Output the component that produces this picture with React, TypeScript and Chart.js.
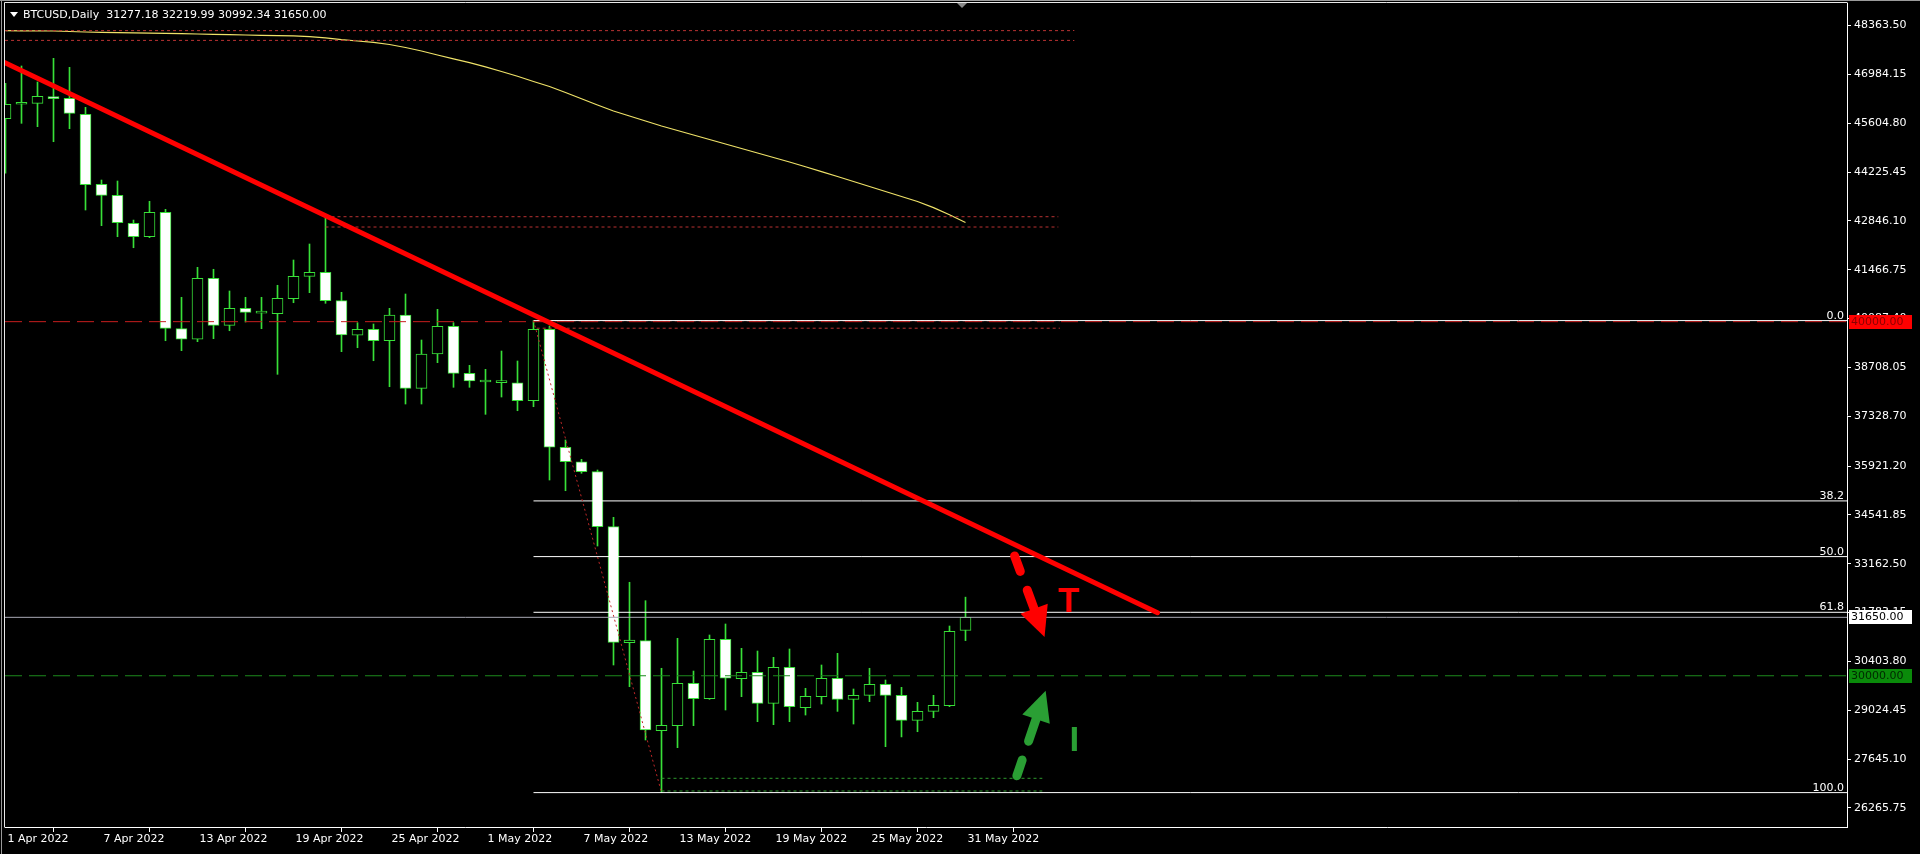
import React, { useEffect, useRef } from 'react';
import { Chart, registerables } from 'chart.js';

Chart.register(...registerables);

// ---- instrument ----
const symbolTitle = 'BTCUSD,Daily';

// ---- time axis ----
const dateTicks = ['1 Apr 2022', '7 Apr 2022', '13 Apr 2022', '19 Apr 2022', '25 Apr 2022', '1 May 2022', '7 May 2022', '13 May 2022', '19 May 2022', '25 May 2022', '31 May 2022'];
const dateTickBars = [0, 6, 12, 18, 24, 30, 36, 42, 48, 54, 60];

// ---- price axis ----
const priceTicks = [48363.5, 46984.15, 45604.8, 44225.45, 42846.1, 41466.75, 40087.4, 38708.05, 37328.7, 35921.2, 34541.85, 33162.5, 31783.15, 30403.8, 29024.45, 27645.1, 26265.75];

// ---- daily OHLC, 1 Apr 2022 .. 31 May 2022 ----
const opens = [45731, 46140, 46166, 46353, 46308, 45856, 43879, 43568, 42778, 42399, 43088, 39801, 39502, 41224, 39897, 40377, 40240, 40225, 40648, 41281, 41394, 40592, 39615, 39784, 39462, 40188, 38118, 39087, 39869, 38541, 38295, 38280, 38276, 37767, 39784, 36452, 36045, 35763, 34210, 30934, 30991, 28449, 28590, 29787, 29352, 31030, 29917, 30098, 29222, 30239, 29098, 29409, 29929, 29334, 29448, 29759, 29448, 28742, 28996, 29155, 31277.18];
const highs = [46731, 47220, 46768, 47437, 47183, 46053, 44000, 43972, 42869, 43399, 43173, 40688, 41535, 41479, 40866, 40688, 40688, 41027, 41741, 42193, 42936, 40829, 39971, 39934, 40377, 40781, 39482, 40349, 39971, 38767, 38654, 39171, 38889, 40030, 39877, 36658, 36113, 35811, 34475, 32640, 32120, 30211, 31058, 30133, 31151, 31462, 30775, 30699, 30521, 30756, 29646, 30304, 30634, 29626, 30211, 29880, 29674, 29250, 29448, 31405, 32219.99];
const lows = [44190, 45601, 45506, 45082, 45449, 43153, 42710, 42399, 42088, 42371, 39462, 39180, 39434, 39519, 39744, 39990, 39801, 38513, 40535, 40818, 40518, 39152, 39264, 38897, 38163, 37674, 37674, 38841, 38146, 38146, 37383, 37872, 37485, 37598, 35528, 35226, 35718, 33664, 30304, 29691, 28186, 26700, 27969, 28590, 29334, 29033, 29409, 28703, 28618, 28703, 28891, 29202, 28994, 28637, 29268, 27997, 28273, 28420, 28816, 29127, 30992.34];
const closes = [46138, 46165, 46364, 46296, 45884, 43868, 43568, 42794, 42399, 43088, 39812, 39502, 41224, 39897, 40377, 40264, 40252, 40660, 41281, 41394, 40592, 39623, 39784, 39462, 40188, 38118, 39087, 39869, 38541, 38324, 38310, 38292, 37767, 39784, 36452, 36045, 35763, 34210, 30945, 31011, 28468, 28601, 29787, 29352, 31030, 29929, 30098, 29222, 30239, 29126, 29420, 29929, 29334, 29448, 29759, 29448, 28742, 28996, 29166, 31256, 31650.0];

// ---- slow moving average ----
const maValues = [48217, 48214, 48211, 48208, 48194, 48180, 48171, 48163, 48155, 48149, 48143, 48135, 48123, 48112, 48104, 48095, 48087, 48078, 48070, 48050, 48016, 47965, 47926, 47889, 47827, 47742, 47643, 47530, 47423, 47316, 47197, 47064, 46929, 46782, 46641, 46471, 46294, 46118, 45949, 45808, 45667, 45525, 45398, 45271, 45144, 45017, 44890, 44763, 44636, 44509, 44374, 44238, 44100, 43958, 43817, 43676, 43535, 43393, 43220, 43020, 42800];

// ---- drawn objects ----
const trendBars = [-0.03, 72];
const trendPrices = [47313, 31781];

const fibBars = [33, 41];
const fibPrices = [40030, 26700];
const fibRatios = [0, 0.382, 0.5, 0.618, 1];
const fibNames = ['0.0', '38.2', '50.0', '61.8', '100.0'];

const resistancePrice = 40000;
const supportPrice = 30000;
const lastPrice = 31650.0;
const barOpen = 31277.18;
const barHigh = 32219.99;
const barLow = 30992.34;

const zoneFromBars = [-0.03, 20, 33.2, 41];
const zoneToBars = [66.8, 65.8, 65.9, 64.8];
const zoneUpper = [48219, 42964, 40024, 27104];
const zoneLower = [47943, 42673, 39815, 26746];

const arrowTailBars = [62.97, 63.12];
const arrowTailPrices = [33504, 27056];
const arrowTipBars = [64.94, 65.01];
const arrowTipPrices = [31095, 29578];

const noteTexts = ['T', 'I'];
const noteBars = [65.8, 66.5];
const notePrices = [31801, 27875];

// ---- view range ----
const xMin = -0.03125;
const xMax = 115.09375;
const yMin = 25729;
const yMax = 48999;

const CANDLE = '#38e038';
const RED = '#ff0000';
const GREEN = '#2a9f34';

const hLine = (price: number, from: number, to: number) => [
  { x: from, y: price },
  { x: to, y: price },
];

const overlay = {
  id: 'terminalOverlay',
  afterDraw(chart: any) {
    const { ctx, chartArea, scales } = chart;
    const xs = scales.x;
    const ys = scales.y;
    ctx.save();

    // frame
    ctx.strokeStyle = '#9a9a9a';
    ctx.lineWidth = 1;
    ctx.beginPath();
    ctx.moveTo(0, 0.5);
    ctx.lineTo(1920, 0.5);
    ctx.moveTo(1.5, 0);
    ctx.lineTo(1.5, 854);
    ctx.stroke();
    ctx.strokeStyle = '#e8e8e8';
    ctx.beginPath();
    ctx.moveTo(chartArea.left - 0.5, chartArea.top - 0.5);
    ctx.lineTo(chartArea.left - 0.5, chartArea.bottom + 0.5);
    ctx.moveTo(chartArea.left - 0.5, chartArea.top - 0.5);
    ctx.lineTo(chartArea.right + 0.5, chartArea.top - 0.5);
    ctx.stroke();

    // header
    ctx.fillStyle = '#ffffff';
    ctx.beginPath();
    ctx.moveTo(10, 12);
    ctx.lineTo(18, 12);
    ctx.lineTo(14, 17);
    ctx.closePath();
    ctx.fill();
    ctx.font = '11px "DejaVu Sans"';
    ctx.textBaseline = 'middle';
    ctx.textAlign = 'left';
    ctx.fillText(
      symbolTitle + '  ' + [barOpen, barHigh, barLow, lastPrice].map((v) => v.toFixed(2)).join(' '),
      23,
      15
    );

    // chart shift marker
    ctx.fillStyle = '#8a8a8a';
    ctx.beginPath();
    ctx.moveTo(957, 3);
    ctx.lineTo(967, 3);
    ctx.lineTo(962, 8);
    ctx.closePath();
    ctx.fill();

    // fibonacci level captions
    const fibHi = fibPrices[0];
    const fibLo = fibPrices[1];
    ctx.fillStyle = '#ffffff';
    ctx.textAlign = 'right';
    ctx.textBaseline = 'alphabetic';
    fibRatios.forEach((r, i) => {
      const y = ys.getPixelForValue(fibHi - (fibHi - fibLo) * r);
      ctx.fillText(fibNames[i], chartArea.right - 3, Math.round(y) - 2);
    });

    // arrows
    const drawArrow = (i: number, color: string) => {
      const x0 = xs.getPixelForValue(arrowTailBars[i]);
      const y0 = ys.getPixelForValue(arrowTailPrices[i]);
      const x1 = xs.getPixelForValue(arrowTipBars[i]);
      const y1 = ys.getPixelForValue(arrowTipPrices[i]);
      const len = Math.hypot(x1 - x0, y1 - y0);
      const ux = (x1 - x0) / len;
      const uy = (y1 - y0) / len;
      const nx = -uy;
      const ny = ux;
      const headLen = 30;
      const headHalf = 14.5;
      ctx.strokeStyle = color;
      ctx.fillStyle = color;
      ctx.lineWidth = 9;
      ctx.lineCap = 'round';
      const seg = (a: number, b: number) => {
        ctx.beginPath();
        ctx.moveTo(x0 + ux * a, y0 + uy * a);
        ctx.lineTo(x0 + ux * b, y0 + uy * b);
        ctx.stroke();
      };
      seg(4.5, 21);
      seg(41, len - headLen + 2);
      const bx = x1 - ux * headLen;
      const by = y1 - uy * headLen;
      ctx.beginPath();
      ctx.moveTo(x1, y1);
      ctx.lineTo(bx + nx * headHalf, by + ny * headHalf);
      ctx.lineTo(bx - nx * headHalf, by - ny * headHalf);
      ctx.closePath();
      ctx.fill();
    };
    drawArrow(0, RED);
    drawArrow(1, GREEN);

    // notes
    ctx.font = 'bold 35px "Liberation Sans"';
    ctx.textAlign = 'left';
    ctx.textBaseline = 'alphabetic';
    const noteColors = [RED, GREEN];
    noteTexts.forEach((t, i) => {
      ctx.fillStyle = noteColors[i];
      ctx.fillText(t, xs.getPixelForValue(noteBars[i]), ys.getPixelForValue(notePrices[i]));
    });

    // price tags on the axis
    const tag = (price: number, bg: string, fg: string) => {
      const y = Math.round(ys.getPixelForValue(price));
      ctx.fillStyle = bg;
      ctx.fillRect(chartArea.right + 2, y - 7, 63, 14);
      ctx.fillStyle = fg;
      ctx.font = '11px "DejaVu Sans"';
      ctx.textAlign = 'left';
      ctx.textBaseline = 'middle';
      ctx.fillText(price.toFixed(2), chartArea.right + 4, y + 0.5);
    };
    tag(resistancePrice, '#ff0000', '#8a0000');
    tag(lastPrice, '#ffffff', '#000000');
    tag(supportPrice, '#0a8a0a', '#002800');

    ctx.restore();
  },
};

export default function App() {
  const canvasRef = useRef<HTMLCanvasElement | null>(null);

  useEffect(() => {
    if (!canvasRef.current) return;
    Chart.defaults.font.family = '"DejaVu Sans", sans-serif';
    Chart.defaults.font.size = 11;

    const bars = opens.map((_, i) => i);
    const wickData = bars.map((i) => ({ x: i, y: [lows[i], highs[i]] }));
    const bodyData = bars.map((i) => ({ x: i, y: [opens[i], closes[i]] }));
    const bodyFill = bars.map((i) => (closes[i] >= opens[i] ? '#000000' : '#ffffff'));

    const fibHi = fibPrices[0];
    const fibLo = fibPrices[1];

    const lineBase = { type: 'line' as const, pointRadius: 0, fill: false, tension: 0 };

    const datasets: any[] = [
      {
        type: 'bar',
        data: wickData,
        backgroundColor: CANDLE,
        barThickness: 1,
        grouped: false,
        order: 20,
      },
      {
        type: 'bar',
        data: bodyData,
        backgroundColor: bodyFill,
        borderColor: CANDLE,
        borderWidth: 1,
        borderSkipped: false,
        barThickness: 11,
        minBarLength: 2,
        grouped: false,
        order: 19,
      },
      {
        ...lineBase,
        data: bars.map((i) => ({ x: i, y: maValues[i] })),
        borderColor: '#efe268',
        borderWidth: 1.2,
        order: 10,
      },
    ];

    // zones
    zoneFromBars.forEach((from, i) => {
      const color = i === 3 ? '#2e9a2e' : '#b83232';
      [zoneUpper[i], zoneLower[i]].forEach((p) => {
        datasets.push({
          ...lineBase,
          data: hLine(p, from, zoneToBars[i]),
          borderColor: color,
          borderWidth: 1,
          borderDash: [3, 3],
          order: 9,
        });
      });
    });

    // fibonacci
    fibRatios.forEach((r) => {
      datasets.push({
        ...lineBase,
        data: hLine(fibHi - (fibHi - fibLo) * r, fibBars[0], xMax),
        borderColor: '#ffffff',
        borderWidth: 1,
        order: 8,
      });
    });
    datasets.push({
      ...lineBase,
      data: [
        { x: fibBars[0], y: fibHi },
        { x: fibBars[1], y: fibLo },
      ],
      borderColor: '#c02828',
      borderWidth: 1,
      borderDash: [2, 3],
      order: 7,
    });

    // horizontal levels
    datasets.push({
      ...lineBase,
      data: hLine(lastPrice, xMin, xMax),
      borderColor: '#a9a9b4',
      borderWidth: 1,
      order: 6,
    });
    datasets.push({
      ...lineBase,
      data: hLine(resistancePrice, xMin, xMax),
      borderColor: '#c81e1e',
      borderWidth: 1,
      borderDash: [17, 7],
      order: 5,
    });
    datasets.push({
      ...lineBase,
      data: hLine(supportPrice, xMin, xMax),
      borderColor: '#1d8a1d',
      borderWidth: 1,
      borderDash: [17, 7],
      order: 5,
    });

    // trend line
    datasets.push({
      ...lineBase,
      data: trendBars.map((b, i) => ({ x: b, y: trendPrices[i] })),
      borderColor: RED,
      borderWidth: 5,
      borderCapStyle: 'round',
      order: 1,
    });

    const chart = new Chart(canvasRef.current, {
      type: 'bar',
      data: { datasets },
      options: {
        responsive: false,
        animation: false,
        devicePixelRatio: 1,
        events: [],
        layout: { padding: { left: 5, top: 3, right: 0, bottom: 0 } },
        plugins: { legend: { display: false }, tooltip: { enabled: false }, title: { display: false } },
        scales: {
          x: {
            type: 'linear',
            position: 'bottom',
            min: xMin,
            max: xMax,
            offset: false,
            afterBuildTicks: (s: any) => {
              s.ticks = dateTickBars.map((v) => ({ value: v }));
            },
            afterFit: (s: any) => {
              s.height = 27;
              s.paddingLeft = 0;
              s.paddingRight = 0;
            },
            ticks: {
              color: '#ffffff',
              align: 'start',
              labelOffset: 2,
              padding: 1,
              maxRotation: 0,
              minRotation: 0,
              autoSkip: false,
              callback: (_v: any, idx: number) => dateTicks[idx],
            },
            grid: { drawOnChartArea: false, drawTicks: true, tickLength: 5, color: '#ffffff' },
            border: { display: true, color: '#ffffff' },
          },
          y: {
            type: 'linear',
            position: 'right',
            min: yMin,
            max: yMax,
            afterBuildTicks: (s: any) => {
              s.ticks = priceTicks.map((v) => ({ value: v }));
            },
            afterFit: (s: any) => {
              s.width = 73;
              s.paddingTop = 0;
              s.paddingBottom = 0;
            },
            ticks: {
              color: '#ffffff',
              padding: 3,
              autoSkip: false,
              callback: (v: any) => Number(v).toFixed(2),
            },
            grid: { drawOnChartArea: false, drawTicks: true, tickLength: 4, color: '#ffffff' },
            border: { display: true, color: '#ffffff' },
          },
        },
      } as any,
      plugins: [overlay],
    });

    return () => chart.destroy();
  }, []);

  return (
    <div style={{ position: 'fixed', left: 0, top: 0, width: 1920, height: 854, background: '#000000' }}>
      <canvas ref={canvasRef} width={1920} height={854} style={{ display: 'block', width: 1920, height: 854 }} />
    </div>
  );
}
